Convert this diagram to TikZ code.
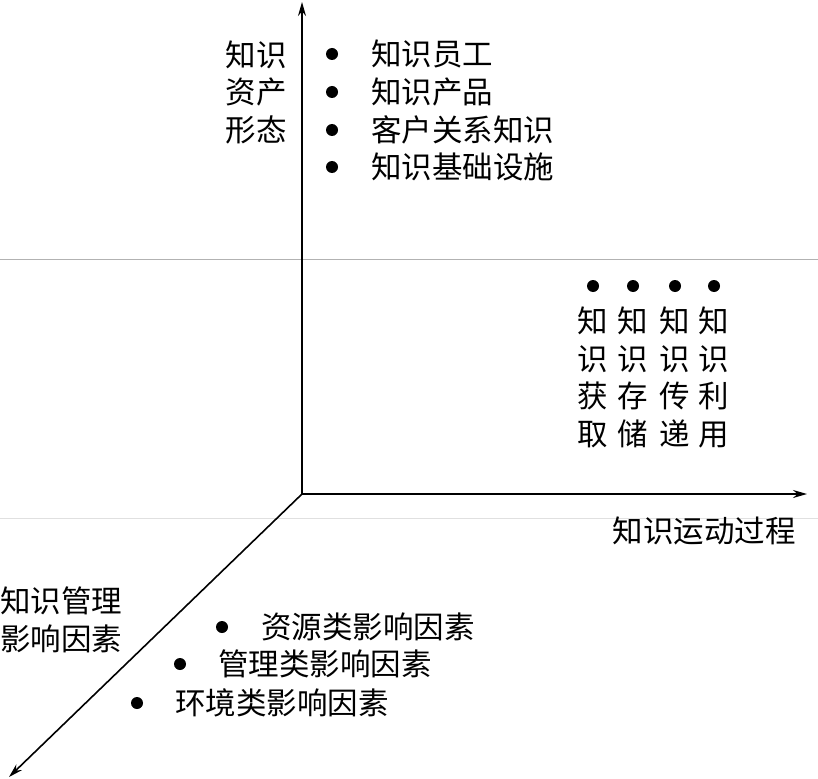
\documentclass[tikz,border=0pt]{standalone}
\usepackage{fontspec}
\newfontfamily\cjk{Noto Sans CJK SC}
\usetikzlibrary{arrows.meta}
\tikzset{
  axis/.style={line width=1.6pt,-{Stealth[length=14pt,width=8pt]}},
  guide/.style={draw=black!30,line width=0.8pt},
  guide2/.style={draw=black!12,line width=0.8pt},
  dot/.style={circle,fill=black,inner sep=0pt,minimum size=12pt},
  lbl/.style={inner sep=0pt,font=\cjk\fontsize{30.5pt}{37.5pt}\selectfont},
  item/.style={lbl,anchor=west},
}
\begin{document}
\begin{tikzpicture}[x=1pt,y=-1pt]
\useasboundingbox (0,0) rectangle (818,778);
% faint guide lines
\draw[guide] (0,259) -- (818,259);
\draw[guide2] (0,518) -- (818,518);
% axes
\coordinate (O) at (302,494);
\coordinate (top) at (302,2);
\coordinate (right) at (807,494);
\coordinate (dl) at (9,777);
\draw[axis] (O) -- (top);
\draw[axis] (O) -- (right);
\draw[axis] (O) -- (dl);
% top-left label
\node[lbl,align=center] (zc) at (256,92) {知识\\资产\\形态};
% asset items
\node[dot] (d1) at (332,54) {};
\node[dot] (d2) at (332,92) {};
\node[dot] (d3) at (332,130) {};
\node[dot] (d4) at (332,167) {};
\node[item] (t1) at (371,54) {知识员工};
\node[item] (t2) at (371,92) {知识产品};
\node[item] (t3) at (371,130) {客户关系知识};
\node[item] (t4) at (371,167) {知识基础设施};
% process items
\node[dot] (p1) at (593,286) {};
\node[dot] (p2) at (633,286) {};
\node[dot] (p3) at (675,286) {};
\node[dot] (p4) at (714,286) {};
\node[lbl,align=center,anchor=north] (q1) at (593,307) {知\\识\\获\\取};
\node[lbl,align=center,anchor=north] (q2) at (633,307) {知\\识\\存\\储};
\node[lbl,align=center,anchor=north] (q3) at (675,307) {知\\识\\传\\递};
\node[lbl,align=center,anchor=north] (q4) at (714,307) {知\\识\\利\\用};
\node[lbl] (xl) at (704,531) {知识运动过程};
% management label
\node[lbl,align=left,anchor=west] (ml) at (0,620) {知识管理\\影响因素};
\node[dot] (m1) at (222,627) {};
\node[dot] (m2) at (180,664) {};
\node[dot] (m3) at (137,703) {};
\node[item] (n1) at (261,627) {资源类影响因素};
\node[item] (n2) at (218,664) {管理类影响因素};
\node[item] (n3) at (175,703) {环境类影响因素};
\end{tikzpicture}
\end{document}
